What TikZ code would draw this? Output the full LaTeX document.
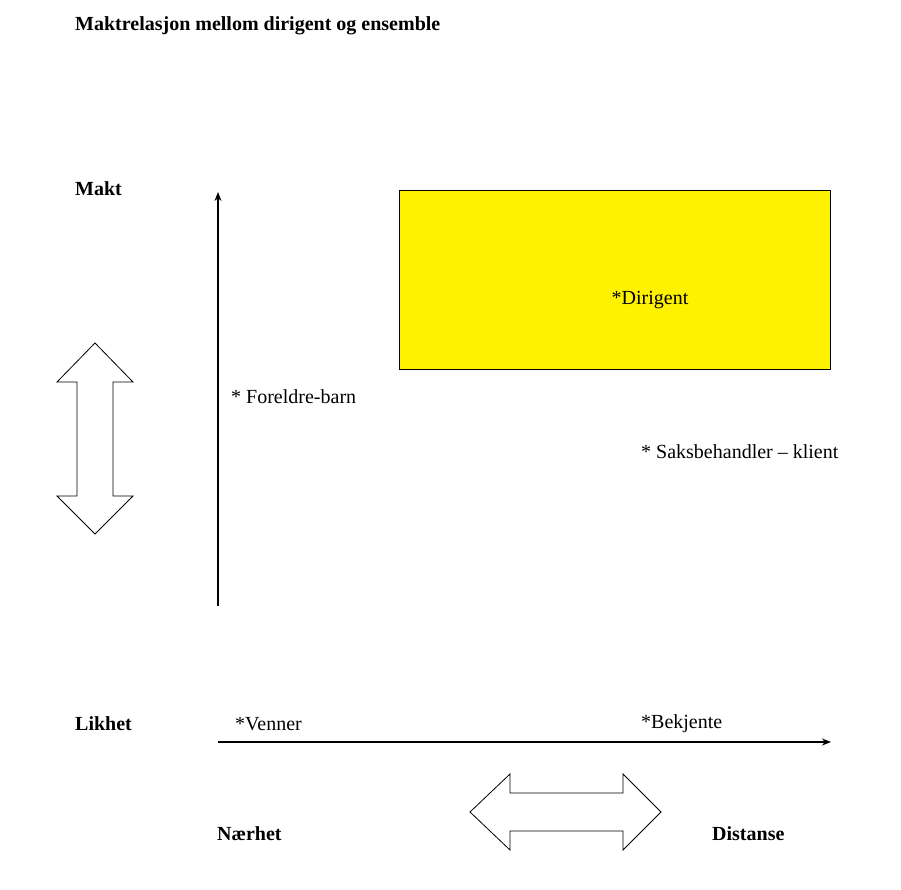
\documentclass[tikz,border=0pt]{standalone}
\usepackage{fontspec}
\setmainfont{Liberation Serif}
\usetikzlibrary{arrows.meta}
\begin{document}
\begin{tikzpicture}[x=1pt,y=-1pt,
  lab/.style={anchor=west,inner sep=0pt,font=\fontsize{20}{24}\selectfont},
  blab/.style={lab,font=\fontsize{20}{24}\selectfont\bfseries},
  arr/.style={draw,line width=1.3pt,-{Stealth[length=9pt,width=7pt]}},
  dbl/.style={draw,line width=0.8pt,fill=white}]
\useasboundingbox (0,0) rectangle (901,890);
\node[blab] (title) at (75,26) {Maktrelasjon mellom dirigent og ensemble};
\node[blab] (makt) at (75,189) {Makt};
\node[blab] (likhet) at (75,724) {Likhet};
\node[blab] (naer) at (217,834) {Nærhet};
\node[blab] (dist) at (712,834) {Distanse};
\coordinate (v0) at (218,606); \coordinate (v1) at (218,192);
\draw[arr] (v0) -- (v1);
\coordinate (h0) at (218,742); \coordinate (h1) at (831,742);
\draw[arr] (h0) -- (h1);
\node[draw,line width=0.8pt,fill=yellow,minimum width=431pt,minimum height=179pt,anchor=north west] (box) at (399,190) {};
\node[lab,anchor=center] (dir) at (650,300) {*Dirigent};
\node[lab] (fb) at (231,397) {* Foreldre-barn};
\node[lab] (sk) at (641,452) {* Saksbehandler – klient};
\node[lab] (ven) at (235,724) {*Venner};
\node[lab] (bek) at (641,724) {*Bekjente};
\draw[dbl] (95,343) -- (133,382) -- (113,382) -- (113,496) -- (133,496) -- (95,534) -- (57,496) -- (77,496) -- (77,382) -- (57,382) -- cycle;
\draw[dbl] (470,812) -- (510,774) -- (510,793) -- (623,793) -- (623,774) -- (661,812) -- (623,850) -- (623,831) -- (510,831) -- (510,850) -- cycle;
\end{tikzpicture}
\end{document}
